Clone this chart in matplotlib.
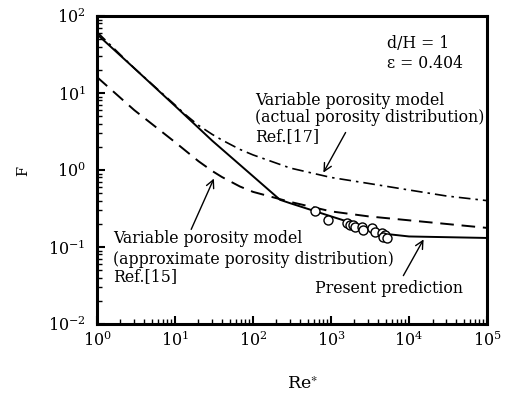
import matplotlib
matplotlib.use("Agg")
import matplotlib.pyplot as plt
from matplotlib.ticker import LogLocator, NullFormatter
import numpy as np

plt.rcParams['font.family'] = ['DejaVu Serif']
plt.rcParams['mathtext.fontset'] = 'stix'

# present prediction (solid)
re_present = [1, 3, 10, 30, 100, 222, 300, 1000, 2000, 3000, 5000, 1e4, 1e5]
f_present = [58, 21, 6.8, 2.4, 0.83, 0.41, 0.37, 0.25, 0.20, 0.17, 0.148, 0.137, 0.131]

# variable porosity model, approximate distribution, Ref.[15] (dashed)
re_ref15 = [1, 3, 10, 20, 30, 40, 68, 100, 200, 300, 1000, 3000, 1e4, 1e5]
f_ref15 = [16.1, 6.0, 2.3, 1.3, 0.97, 0.81, 0.61, 0.52, 0.43, 0.385, 0.29, 0.25, 0.222, 0.177]

# variable porosity model, actual distribution, Ref.[17] (dash-dot)
re_ref17 = [1, 3, 10, 13.4, 20, 30, 40, 68, 100, 300, 1000, 3000, 1e4, 3e4, 1e5]
f_ref17 = [62, 21, 7.0, 5.3, 3.8, 2.9, 2.45, 1.85, 1.57, 1.06, 0.8, 0.67, 0.55, 0.46, 0.40]

# experimental points
re_exp = [624, 915, 1600, 1750, 1910, 2030, 2500, 2570, 3350, 3670, 4510, 4920, 4640, 5220]
f_exp = [0.29, 0.224, 0.205, 0.193, 0.193, 0.182, 0.182, 0.166, 0.177, 0.157, 0.152, 0.143, 0.135, 0.131]

fig = plt.figure(figsize=(5.06, 3.94), dpi=100)
ax = fig.add_axes([0.1917, 0.1777, 0.7708, 0.7817])

ax.plot(re_present, f_present, color='black', lw=1.4)
ax.plot(re_ref15, f_ref15, color='black', lw=1.4, dashes=(7, 4))
ax.plot(re_ref17, f_ref17, color='black', lw=1.2, dashes=(7, 3, 1.5, 3))
ax.plot(re_exp, f_exp, 'o', ms=6.5, mfc='white', mec='black', mew=1.0)

ax.set_xscale('log')
ax.set_yscale('log')
ax.set_xlim(1, 1e5)
ax.set_ylim(1e-2, 1e2)

for s in ax.spines.values():
    s.set_linewidth(2.2)
ax.xaxis.set_major_locator(LogLocator(base=10, numticks=10))
ax.xaxis.set_minor_locator(LogLocator(base=10, subs=np.arange(2, 10), numticks=20))
ax.yaxis.set_minor_locator(LogLocator(base=10, subs=np.arange(2, 10), numticks=20))
ax.xaxis.set_minor_formatter(NullFormatter())
ax.yaxis.set_minor_formatter(NullFormatter())
ax.tick_params(which='both', direction='in', top=False, right=False, labelsize=11.5)
ax.tick_params(which='major', length=6, width=1.5)
ax.tick_params(axis='x', which='major', pad=5)
ax.tick_params(axis='y', which='major', pad=8)
ax.tick_params(which='minor', length=3.5, width=1.0)

fig.text(0.045, 0.566, 'F', rotation=90, ha='center', va='center', fontsize=10.5)
fig.text(0.598, 0.025, r'Re$^{\ast}$', ha='center', va='center', fontsize=12.5)

txt = dict(transform=ax.transAxes, fontsize=11.3, va='center', ha='left')
ax.text(0.744, 0.912, 'd/H = 1', **txt)
ax.text(0.744, 0.847, 'ε = 0.404', **txt)

upper = ['Variable porosity model', '(actual porosity distribution)', 'Ref.[17]']
for line, y in zip(upper, [0.727, 0.669, 0.607]):
    ax.text(0.405, y, line, **txt)
lower = ['Variable porosity model', '(approximate porosity distribution)', 'Ref.[15]']
for line, y in zip(lower, [0.276, 0.211, 0.153]):
    ax.text(0.041, y, line, **txt)
ax.text(0.559, 0.114, 'Present prediction', **txt)

arrow = dict(arrowstyle='->', color='black', lw=1.0, mutation_scale=14)
ax.annotate('', xy=(767, 0.86), xytext=(1600, 3.3), arrowprops=arrow)
ax.annotate('', xy=(32.6, 0.835), xytext=(15.6, 0.157), arrowprops=arrow)
ax.annotate('', xy=(16000, 0.135), xytext=(8130, 0.0395), arrowprops=arrow)

fig.savefig('out.png', dpi=100)
